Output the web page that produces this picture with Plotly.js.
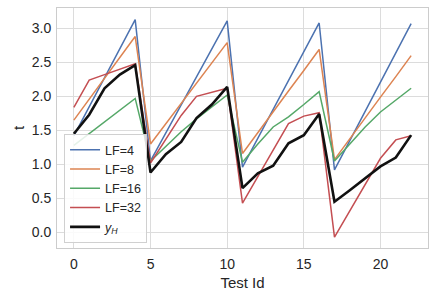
<!DOCTYPE html>
<html>
<head>
<meta charset="utf-8">
<script src="https://cdn.plot.ly/plotly-3.0.1.min.js"></script>
<style>html,body{margin:0;padding:0;background:#fff;}#chart{width:436px;height:299px;}</style>
</head>
<body>
<div id="chart"></div>
<script>
const testId = [0,1,2,3,4,5,6,7,8,9,10,11,12,13,14,15,16,17,18,19,20,21,22];
const lf4  = [1.42,1.85,2.28,2.70,3.13, 1.05,1.46,1.87,2.28,2.69,3.11, 0.96,1.38,1.81,2.23,2.66,3.08, 0.92,1.35,1.78,2.21,2.64,3.07];
const lf8  = [1.65,1.96,2.27,2.57,2.88, 1.30,1.60,1.90,2.20,2.50,2.79, 1.16,1.47,1.77,2.08,2.38,2.69, 1.07,1.38,1.68,1.99,2.29,2.60];
const lf16 = [1.28,1.45,1.62,1.80,1.97, 1.05,1.27,1.48,1.67,1.85,2.02, 1.03,1.30,1.55,1.70,1.88,2.07, 1.05,1.30,1.55,1.77,1.95,2.12];
const lf32 = [1.84,2.24,2.32,2.40,2.48, 1.02,1.38,1.72,2.00,2.06,2.12, 0.43,0.82,1.21,1.60,1.71,1.76, -0.07,0.32,0.70,1.09,1.36,1.42];
const yH   = [1.45,1.73,2.12,2.32,2.46, 0.88,1.15,1.33,1.68,1.88,2.14, 0.65,0.87,0.98,1.31,1.43,1.74, 0.45,0.62,0.80,0.97,1.10,1.43];
const names = ['LF=4','LF=8','LF=16','LF=32','<i>y</i><sub><i>H</i></sub>'];
const colors = ['#4c72b0','#dd8452','#55a868','#c44e52','#111111'];
const series = [lf4, lf8, lf16, lf32, yH];
const widths = [1.5,1.5,1.5,1.5,2.6];

const traces = series.map((s,i)=>({
  x: testId, y: s, type:'scatter', mode:'lines', name:names[i],
  line:{color:colors[i], width:widths[i]}
}));

const font = {family:'"Liberation Sans", Arial, sans-serif', color:'#262626'};
const layout = {
  width:436, height:299,
  margin:{l:57, r:8, t:8, b:51},
  paper_bgcolor:'#ffffff', plot_bgcolor:'#ffffff',
  font: Object.assign({size:14}, font),
  showlegend:true,
  legend:{x:0.019, y:0.02, xanchor:'left', yanchor:'bottom',
    bgcolor:'rgba(255,255,255,0.85)', bordercolor:'#d0d0d0', borderwidth:1,
    itemwidth:30,
    font:Object.assign({size:12.5}, font)},
  xaxis:{range:[-1.1,23.1], tickvals:[0,5,10,15,20], ticktext:['0','5','10','15','20'],
    showgrid:true, gridcolor:'#dcdcdc', gridwidth:1, zeroline:false,
    showline:true, mirror:true, linecolor:'#cccccc', linewidth:1, ticks:'',
    ticklabelstandoff:3,
    tickfont:Object.assign({size:14}, font),
    title:{text:'Test Id', font:Object.assign({size:15}, font), standoff:6}},
  yaxis:{range:[-0.23,3.3], tickvals:[0,0.5,1,1.5,2,2.5,3], ticktext:['0.0','0.5','1.0','1.5','2.0','2.5','3.0'],
    showgrid:true, gridcolor:'#dcdcdc', gridwidth:1, zeroline:false,
    showline:true, mirror:true, linecolor:'#cccccc', linewidth:1, ticks:'',
    ticklabelstandoff:2,
    tickfont:Object.assign({size:14}, font),
    title:{text:'t', font:Object.assign({size:15}, font), standoff:3}}
};
Plotly.newPlot('chart', traces, layout, {displayModeBar:false, staticPlot:true});
</script>
</body>
</html>
